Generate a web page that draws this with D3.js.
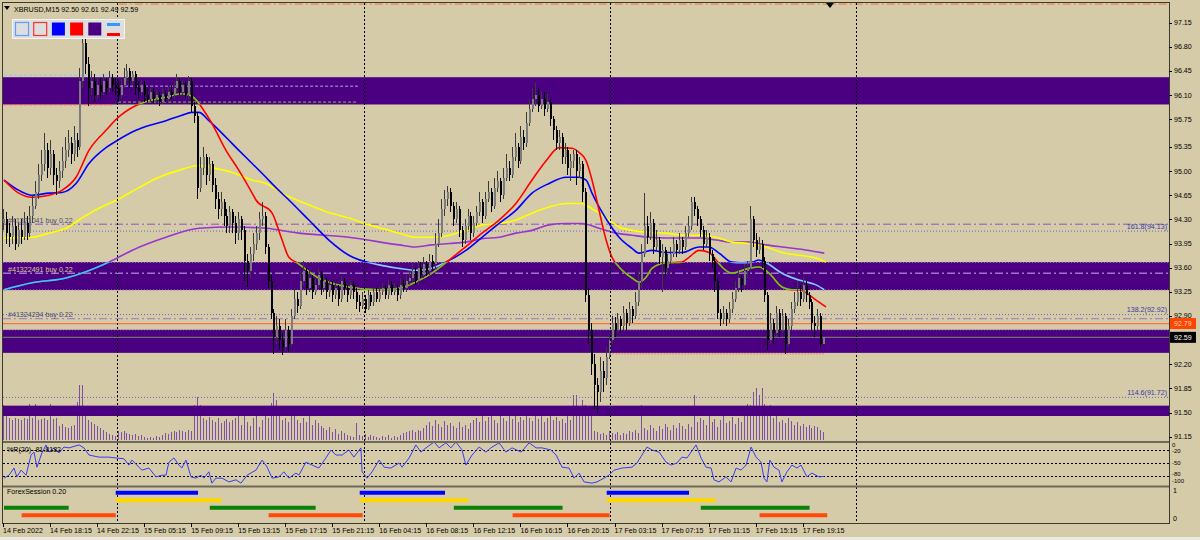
<!DOCTYPE html>
<meta charset="utf-8">
<style>
  body { margin: 0; background: #d5cba8; }
  svg text { font-family: "Liberation Sans", Arial, sans-serif; font-size: 7.1px; fill: #000; }
</style>
<script src="https://d3js.org/d3.v7.min.js"></script>
<div id="chart"></div>
<script>
  // ---- data (XBRUSD M15) ----
  var firstOpen = 94.25;
  var closes = [
    94.30, 94.10, 94.05, 94.20, 93.95, 94.15, 94.05, 94.25, 94.10, 94.35,
    94.50, 94.70, 94.95, 95.10, 95.30, 95.05, 95.25, 94.95, 94.85, 95.00,
    95.15, 95.30, 95.40, 95.25, 95.45, 95.35, 96.30, 96.85, 96.55, 96.20,
    96.30, 96.10, 96.25, 96.15, 96.30, 96.20, 96.35, 96.25, 96.20, 96.10,
    96.25, 96.35, 96.45, 96.30, 96.40, 96.20, 96.15, 96.25, 96.10, 96.05,
    96.15, 96.05, 96.10, 96.00, 96.12, 96.05, 96.15, 96.10, 96.20, 96.30,
    96.15, 96.25, 96.10, 96.30, 95.95, 95.80, 94.75, 95.05, 95.20, 94.95,
    95.10, 94.80, 94.60, 94.45, 94.55, 94.35, 94.20, 94.40, 94.25, 94.10,
    94.30, 94.15, 93.70, 93.55, 93.80, 93.95, 94.10, 94.30, 94.35, 93.90,
    93.40, 92.95, 92.60, 92.75, 92.55, 92.45, 92.70, 92.50, 92.90, 93.15,
    93.05, 93.40, 93.55, 93.30, 93.45, 93.25, 93.35, 93.50, 93.30, 93.40,
    93.25, 93.35, 93.20, 93.30, 93.15, 93.40, 93.30, 93.20, 93.35, 93.25,
    93.10, 93.05, 93.15, 93.00, 93.20, 93.10, 93.25, 93.15, 93.25, 93.30,
    93.20, 93.35, 93.25, 93.30, 93.20, 93.35, 93.30, 93.40, 93.45, 93.55,
    93.40, 93.60, 93.50, 93.65, 93.55, 93.70, 93.65, 93.95, 94.10, 94.45,
    94.60, 94.70, 94.50, 94.30, 94.45, 94.15, 94.00, 94.20, 94.35, 94.10,
    94.25, 94.40, 94.55, 94.35, 94.60, 94.70, 94.50, 94.75, 94.85, 94.65,
    94.90, 95.05, 94.95, 95.20, 95.35, 95.15, 95.50, 95.40, 95.70, 95.90,
    96.05, 96.10, 95.95, 96.05, 95.90, 96.00, 95.75, 95.60, 95.40, 95.50,
    95.20, 95.30, 95.05, 95.15, 95.25, 95.00, 95.10, 94.70, 93.20, 92.70,
    92.20, 91.90, 91.80, 92.10, 92.00, 92.30, 92.55, 92.80, 92.70, 92.85,
    92.75, 92.95, 92.80, 93.00, 92.90, 93.10, 93.40, 93.80, 94.20, 94.05,
    94.25, 93.90, 94.00, 93.75, 93.85, 93.60, 93.70, 93.80, 93.95, 93.85,
    94.00, 93.90, 94.10, 94.20, 94.55, 94.45, 94.30, 94.15, 93.95, 94.05,
    93.80, 93.70, 93.40, 92.95, 92.85, 92.95, 92.85, 93.00, 93.15, 93.30,
    93.45, 93.35, 93.55, 93.60, 94.30, 94.00, 93.85, 93.95, 93.70, 93.20,
    92.55, 92.80, 92.65, 92.95, 92.70, 92.90, 92.50, 92.75, 93.00, 93.10,
    93.25, 93.15, 93.35, 93.20, 93.10, 92.80, 92.75, 92.90, 92.50, 92.59
  ];
  var highs = [
    94.45, 94.40, 94.25, 94.35, 94.30, 94.25, 94.30, 94.40, 94.35, 94.50,
    94.65, 94.85, 95.10, 95.30, 95.55, 95.40, 95.45, 95.30, 95.05, 95.15,
    95.35, 95.50, 95.60, 95.50, 95.65, 95.55, 96.50, 97.06, 96.95, 96.65,
    96.45, 96.40, 96.35, 96.35, 96.40, 96.35, 96.45, 96.40, 96.35, 96.30,
    96.35, 96.50, 96.55, 96.50, 96.45, 96.45, 96.30, 96.30, 96.30, 96.20,
    96.20, 96.20, 96.18, 96.15, 96.20, 96.18, 96.22, 96.25, 96.30, 96.40,
    96.35, 96.32, 96.30, 96.38, 96.35, 96.00, 95.85, 95.20, 95.35, 95.25,
    95.20, 95.15, 94.90, 94.70, 94.70, 94.60, 94.45, 94.50, 94.45, 94.35,
    94.40, 94.35, 94.20, 93.80, 93.90, 94.10, 94.20, 94.40, 94.55, 94.40,
    93.95, 93.50, 93.00, 92.90, 92.85, 92.65, 92.85, 92.75, 93.00, 93.30,
    93.25, 93.55, 93.70, 93.60, 93.55, 93.50, 93.45, 93.60, 93.55, 93.50,
    93.45, 93.42, 93.40, 93.38, 93.35, 93.48, 93.45, 93.35, 93.42, 93.40,
    93.30, 93.20, 93.25, 93.20, 93.28, 93.25, 93.30, 93.30, 93.32, 93.38,
    93.35, 93.42, 93.40, 93.38, 93.35, 93.45, 93.42, 93.50, 93.55, 93.65,
    93.60, 93.70, 93.68, 93.75, 93.70, 93.80, 93.78, 94.10, 94.30, 94.60,
    94.72, 94.78, 94.75, 94.55, 94.55, 94.50, 94.20, 94.30, 94.45, 94.40,
    94.35, 94.50, 94.70, 94.60, 94.70, 94.85, 94.75, 94.90, 95.00, 94.90,
    95.05, 95.25, 95.15, 95.35, 95.55, 95.40, 95.65, 95.60, 95.85, 96.05,
    96.20, 96.28, 96.20, 96.15, 96.15, 96.12, 96.05, 95.80, 95.65, 95.60,
    95.55, 95.40, 95.35, 95.25, 95.30, 95.30, 95.20, 95.15, 94.75, 93.30,
    92.80, 92.35, 92.00, 92.30, 92.25, 92.45, 92.60, 92.90, 92.88, 92.95,
    92.90, 93.05, 93.00, 93.10, 93.05, 93.25, 93.55, 93.95, 94.68, 94.35,
    94.40, 94.30, 94.15, 94.05, 93.95, 93.90, 93.80, 93.90, 94.05, 94.00,
    94.10, 94.05, 94.20, 94.35, 94.62, 94.62, 94.50, 94.35, 94.20, 94.15,
    94.10, 93.85, 93.75, 93.45, 93.00, 93.05, 93.00, 93.10, 93.25, 93.40,
    93.55, 93.50, 93.65, 93.70, 94.50, 94.35, 94.10, 94.05, 94.00, 93.75,
    93.25, 92.95, 92.85, 93.05, 93.00, 93.00, 92.95, 92.85, 93.10, 93.25,
    93.40, 93.35, 93.46, 93.40, 93.25, 93.15, 92.90, 93.00, 92.95, 92.61
  ];
  var lows = [
    94.15, 93.95, 93.90, 93.95, 93.85, 93.90, 93.95, 94.00, 94.00, 94.05,
    94.25, 94.45, 94.60, 94.85, 95.00, 94.90, 94.95, 94.80, 94.65, 94.75,
    94.90, 95.05, 95.20, 95.10, 95.15, 95.20, 95.30, 96.20, 96.40, 95.95,
    96.10, 96.00, 96.05, 96.05, 96.10, 96.10, 96.15, 96.15, 96.10, 96.00,
    96.05, 96.20, 96.30, 96.20, 96.25, 96.10, 96.05, 96.10, 96.00, 96.00,
    96.00, 95.98, 96.00, 95.95, 95.97, 96.00, 96.00, 96.05, 96.05, 96.15,
    96.10, 96.10, 96.05, 96.05, 95.85, 95.70, 94.60, 94.70, 94.95, 94.80,
    94.85, 94.70, 94.45, 94.30, 94.35, 94.20, 94.10, 94.10, 94.10, 93.95,
    94.00, 94.00, 93.40, 93.32, 93.45, 93.70, 93.85, 94.00, 94.20, 93.80,
    93.30, 92.85, 92.35, 92.50, 92.40, 92.34, 92.40, 92.38, 92.45, 92.85,
    92.95, 93.00, 93.35, 93.20, 93.25, 93.15, 93.20, 93.30, 93.20, 93.25,
    93.15, 93.18, 93.10, 93.15, 93.05, 93.10, 93.20, 93.10, 93.15, 93.15,
    93.00, 92.96, 93.00, 92.95, 92.98, 93.05, 93.05, 93.10, 93.10, 93.20,
    93.15, 93.15, 93.20, 93.20, 93.12, 93.15, 93.25, 93.25, 93.35, 93.40,
    93.35, 93.35, 93.45, 93.45, 93.48, 93.50, 93.55, 93.60, 93.90, 94.05,
    94.35, 94.50, 94.40, 94.20, 94.25, 94.05, 93.90, 93.95, 94.15, 94.00,
    94.05, 94.20, 94.35, 94.25, 94.30, 94.55, 94.40, 94.45, 94.70, 94.55,
    94.60, 94.85, 94.85, 94.90, 95.15, 95.05, 95.10, 95.30, 95.35, 95.65,
    95.85, 95.95, 95.85, 95.90, 95.80, 95.85, 95.65, 95.45, 95.30, 95.30,
    95.10, 95.10, 94.95, 94.85, 95.05, 94.80, 94.90, 94.55, 93.10, 92.50,
    92.05, 91.55, 91.50, 91.65, 91.80, 91.90, 92.28, 92.50, 92.60, 92.65,
    92.65, 92.70, 92.70, 92.75, 92.80, 92.85, 93.05, 93.30, 93.75, 93.95,
    94.00, 93.80, 93.85, 93.65, 93.25, 93.50, 93.50, 93.65, 93.75, 93.75,
    93.80, 93.80, 93.85, 94.05, 94.15, 94.35, 94.20, 94.05, 93.85, 93.90,
    93.70, 93.60, 93.25, 92.85, 92.75, 92.78, 92.75, 92.80, 92.95, 93.10,
    93.25, 93.25, 93.30, 93.45, 93.55, 93.90, 93.75, 93.80, 93.60, 93.10,
    92.40, 92.50, 92.50, 92.60, 92.60, 92.65, 92.35, 92.45, 92.70, 92.95,
    93.05, 93.05, 93.10, 93.10, 93.00, 92.70, 92.60, 92.70, 92.45, 92.49
  ];
  var volumes = [
    35, 34, 22, 20, 22, 21, 20, 22, 21, 36,
    22, 36, 20, 21, 22, 20, 36, 21, 22, 14,
    16, 13, 12, 14, 15, 38, 55, 55, 24, 20,
    18, 16, 14, 12, 10, 8, 6, 5, 4, 9,
    8, 9, 7, 6, 5, 6, 4, 5, 3, 2,
    3, 2, 4, 3, 5, 7, 6, 8, 9, 8,
    10, 9, 8, 10, 9, 35, 43, 35, 22, 20,
    23, 20, 18, 22, 17, 19, 21, 18, 20, 22,
    25, 15, 27, 18, 14, 22, 26, 13, 20, 24,
    22, 37, 47, 40, 25, 20, 22, 18, 24, 27,
    20, 17, 22, 18, 25, 15, 20, 17, 14, 12,
    10, 13, 8, 11, 6, 9, 7, 5, 4, 3,
    17, 5, 4, 6, 3, 5, 4, 3, 2, 4,
    3, 5, 2, 4, 3, 5, 7, 8, 9, 10,
    8, 10, 9, 12, 15, 18, 14, 20, 16, 13,
    19, 15, 17, 14, 12, 18, 13, 15, 11, 17,
    20, 22, 18, 25, 19, 23, 27, 20, 17, 24,
    22, 19, 25, 21, 27, 18, 23, 20, 26, 22,
    19, 24, 21, 25, 18, 22, 26, 20, 23, 19,
    21, 17, 24, 20, 45, 45, 28, 40, 35, 30,
    27, 9, 8, 6, 7, 5, 9, 7, 6, 8,
    5, 7, 6, 9, 8, 10, 7, 35, 12, 10,
    15, 12, 9, 14, 11, 16, 13, 10, 15, 12,
    17, 14, 11, 16, 13, 45, 18, 22, 20, 15,
    24, 18, 21, 13, 20, 25, 17, 19, 23, 16,
    22, 18, 25, 36, 35, 48, 52, 45, 52, 36,
    30, 35, 22, 25, 18, 20, 17, 22, 19, 15,
    18, 14, 16, 13, 15, 12, 14, 13, 10, 8
  ];

  // moving averages sampled as [bar, price]
  var maRed = [[0, 94.87], [5, 94.68], [9.5, 94.62], [15.3, 94.65], [19.7, 94.72], [24.5, 94.91], [28.9, 95.30],
    [34.7, 95.59], [38.4, 95.76], [44.9, 95.95], [49.3, 96.02], [55.1, 96.07], [60.5, 96.12], [63.6, 96.09],
    [65.6, 96.02], [67.3, 95.92], [70.7, 95.69], [75.5, 95.30], [79.9, 95.01], [84.4, 94.68], [85.7, 94.58],
    [91.2, 94.39], [94.6, 94.00], [96.9, 93.75], [99.7, 93.67], [107, 93.45], [117, 93.32], [127.5, 93.28],
    [134.4, 93.30], [140, 93.39], [145.6, 93.52], [151.4, 93.71], [157, 93.90], [162.6, 94.10], [168.4, 94.29],
    [174.1, 94.53], [179.6, 94.87], [184.4, 95.15], [188.8, 95.34], [193.2, 95.33], [195.6, 95.27], [198, 95.15],
    [200, 94.87], [202.4, 94.43], [204.8, 94.00], [206.8, 93.75], [209.2, 93.61], [213.6, 93.45], [216, 93.39],
    [218.4, 93.46], [220.4, 93.59], [225.2, 93.67], [230.6, 93.68], [233, 93.75], [236.4, 93.85], [239.8, 93.82],
    [242.2, 93.71], [244.2, 93.61], [247.6, 93.52], [253.4, 93.59], [256.8, 93.61], [260.2, 93.52], [264.6, 93.32],
    [268, 93.28], [270.4, 93.28], [276.2, 93.13], [279.6, 93.03]];
  var maBlue = [[0, 94.87], [5.1, 94.72], [9.5, 94.65], [15.3, 94.68], [19.7, 94.69], [24.5, 94.82], [28.9, 95.11],
    [34.7, 95.34], [38.4, 95.44], [44.9, 95.59], [49.3, 95.66], [55.1, 95.73], [60.5, 95.81], [63.9, 95.85],
    [66.3, 95.85], [69.7, 95.73], [75.5, 95.49], [79.9, 95.30], [84.4, 95.11], [89.1, 94.91], [92.5, 94.76],
    [96.9, 94.58], [103.7, 94.29], [110.5, 94.00], [117.3, 93.78], [127.6, 93.64], [134.4, 93.59], [140.1, 93.56],
    [145.6, 93.59], [150.3, 93.68], [157.1, 93.85], [162.6, 94.04], [168.4, 94.24], [174.1, 94.43], [179.6, 94.68],
    [185.4, 94.82], [191.2, 94.91], [195.6, 94.91], [198, 94.87], [200, 94.68], [202.4, 94.48], [205.8, 94.24],
    [209.2, 94.04], [213.6, 93.88], [216, 93.81], [220.4, 93.85], [225.2, 93.82], [230.6, 93.82], [236.4, 93.90],
    [239.8, 93.90], [243.2, 93.81], [247.6, 93.68], [251, 93.67], [254.4, 93.68], [256.8, 93.71], [259.2, 93.67],
    [264.6, 93.52], [270.4, 93.42], [276.2, 93.35], [279, 93.28]];
  var maYellow = [[0, 94.03], [9.5, 94.04], [15.3, 94.10], [21.1, 94.17], [26.5, 94.32], [32.3, 94.46], [38.4, 94.58],
    [45.9, 94.76], [52.7, 94.91], [59.5, 95.01], [66.3, 95.08], [70.7, 95.05], [77.6, 94.98], [84.4, 94.87],
    [89.1, 94.82], [94.6, 94.68], [98, 94.61], [103.7, 94.51], [110.5, 94.40], [117.3, 94.32], [124.1, 94.22],
    [131, 94.14], [134.4, 94.10], [140.1, 94.04], [145.6, 94.04], [151.4, 94.07], [157.1, 94.14], [162.6, 94.22],
    [168.4, 94.24], [174.1, 94.29], [179.6, 94.39], [185.4, 94.48], [191.2, 94.53], [196.3, 94.53], [199, 94.48],
    [202.4, 94.39], [205.8, 94.29], [209.2, 94.19], [213.6, 94.14], [219.4, 94.11], [225.2, 94.10], [230.6, 94.07],
    [236.4, 94.07], [242.2, 94.04], [247.6, 93.97], [253.4, 93.95], [259.2, 93.90], [264.6, 93.82], [270.4, 93.78],
    [276.2, 93.74], [279.6, 93.68]];
  var maPurple = [[0, 93.28], [9.5, 93.38], [21.1, 93.45], [35.7, 93.68], [43.5, 93.85], [55.1, 94.04], [66.3, 94.17],
    [77.6, 94.19], [89.1, 94.17], [100.3, 94.10], [117.3, 94.04], [134.4, 93.93], [140.1, 93.90], [145.6, 93.93],
    [151.4, 93.95], [157.1, 93.97], [162.6, 94.02], [168.4, 94.04], [174.1, 94.10], [179.6, 94.14], [185.4, 94.22],
    [191.2, 94.24], [196.6, 94.24], [202.4, 94.17], [208.2, 94.10], [213.6, 94.07], [219.4, 94.04], [225.2, 94.03],
    [230.6, 94.03], [236.4, 94.03], [242.2, 94.00], [247.6, 93.97], [253.4, 93.97], [259.2, 93.93], [264.6, 93.90],
    [270.4, 93.87], [276.2, 93.83], [279, 93.81]];

  // Williams %R(20) sampled as [bar, value]
  var wpr = [[0, -86], [1.7, -79], [3.4, -62], [4.4, -83], [5.8, -67], [7.5, -79], [9.2, -31], [10.2, -24], [11.2, -60],
    [12.9, -26], [14.3, -7], [15.3, -24], [17, -14], [18.7, -26], [20.4, -12], [22.1, -14], [25.5, -7], [27.2, -14],
    [28.9, -31], [32.3, -36], [35.7, -36], [38.1, -38], [40.8, -40], [42.5, -55], [43.5, -43], [45.9, -60], [46.9, -67],
    [49.3, -62], [51.7, -83], [53.7, -79], [55.1, -79], [56.1, -48], [57.8, -38], [59.5, -55], [60.5, -62], [61.9, -43],
    [63.6, -83], [65.3, -86], [67, -79], [68, -86], [69.7, -71], [70.7, -98], [72.1, -86], [74.1, -86], [76.5, -95],
    [78.9, -90], [80.6, -98], [82.7, -79], [85.7, -67], [87.8, -43], [89.5, -60], [91.2, -86], [93.5, -83], [95.2, -71],
    [96.9, -86], [99.3, -74], [100.3, -79], [102.7, -48], [104.8, -55], [107.1, -62], [109.5, -38], [111.2, -19],
    [112.9, -31], [115, -31], [117.3, -19], [119, -36], [121.4, -14], [121.8, -71], [123.5, -86], [125.2, -71],
    [127.6, -43], [129.3, -60], [131.6, -62], [134.4, -50], [135.4, -60], [137.8, -38], [140.1, -7], [141.8, -24],
    [143.9, -12], [146.3, 0], [148, -14], [150.3, -2], [152, -14], [153.7, 0], [155.8, -19], [157.1, -55], [159.2, -31],
    [161.6, -12], [163.9, -24], [166, -12], [168.4, -2], [170.7, -24], [172.8, -14], [175.9, -24], [178.6, -2],
    [181, -14], [183, -14], [186, -19], [187.8, -31], [189.8, -60], [192.2, -62], [193.9, -86], [195.6, -74],
    [197.3, -95], [200, -98], [201.7, -95], [204.1, -86], [205.8, -79], [207.5, -67], [210.2, -62], [213.6, -60],
    [215.3, -50], [217, -31], [218.7, -12], [220.4, -19], [222.8, -24], [225.2, -48], [226.9, -55], [228.9, -50],
    [230.6, -36], [232.3, -38], [235.4, -7], [237.1, -38], [238.8, -60], [240.5, -62], [241.5, -90], [243.2, -95],
    [245.6, -83], [247.3, -95], [249, -62], [250.7, -67], [252.4, -55], [254.1, -12], [255.8, -36], [257.5, -48],
    [258.5, -86], [259.5, -95], [260.5, -43], [261.9, -60], [263.6, -67], [264.6, -95], [266.3, -71], [268, -55],
    [269.7, -62], [271.1, -55], [273.1, -83], [274.8, -74], [277.2, -83], [278.9, -82]];
  var wprLevels = [-20, -50, -80];
  var wprTicks = [0, -20, -50, -80, -100];

  // ForexSession bars, [startBar, endBar]
  var sessionNames = ["Sydney", "Tokyo", "London", "NewYork"];
  var sessionRanges = [
    [[38, 66], [121, 150], [205, 233]],
    [[38, 74], [121, 158], [205, 242]],
    [[0, 22], [70, 106], [153, 190], [237, 274]],
    [[6, 38], [90, 122], [173, 206], [257, 280]]
  ];

  var zones = [[95.965, 96.36], [93.275, 93.68], [92.365, 92.70], [91.45, 91.60]];
  var zoneEdges = [93.68, 93.275, 92.70];
  var orderLines = [94.23, 93.52, 92.86];
  var orderLabels = ["#41321041 buy 0.22", "#41322491 buy 0.22", "#41324234 buy 0.22"];
  var fiboLevels = [94.13, 92.92, 91.72];
  var fiboLabels = ["161.8(94.13)", "138.2(92.92)", "114.6(91.72)"];
  var alertPrice = 92.79;
  var lastPrice = 92.59;
  var lowLine = [206, 279, 92.35];
  var topLine = [39, 396, 97.42];
  var oldBox = [[0, 36.7, 96.39], [0, 36.7, 95.96], [39.5, 120.4, 96.23], [38.8, 120.4, 96.00]];
  var daySeps = [38.5, 122.5, 206.1, 289.8];
  var priceTicks = [97.15, 96.80, 96.45, 96.10, 95.75, 95.35, 95.00, 94.65, 94.30, 93.95, 93.60, 93.25, 92.90,
    92.20, 91.85, 91.50, 91.15];
  var timeLabels = ["14 Feb 2022", "14 Feb 18:15", "14 Feb 22:15", "15 Feb 05:15", "15 Feb 09:15", "15 Feb 13:15",
    "15 Feb 17:15", "15 Feb 21:15", "16 Feb 04:15", "16 Feb 08:15", "16 Feb 12:15", "16 Feb 16:15", "16 Feb 20:15",
    "17 Feb 03:15", "17 Feb 07:15", "17 Feb 11:15", "17 Feb 15:15", "17 Feb 19:15"];
  var header = "XBRUSD,M15  92.50 92.61 92.49 92.59";

  // ---- layout ----
  var left = 3, right = 1169, mainTop = 3, mainBot = 440, bottom = 523;
  var svg = d3.select("#chart").append("svg")
    .attr("width", 1200).attr("height", 540)
    .style("background", "#d5cba8");

  var x = d3.scaleLinear().domain([0, 396]).range([4, 4 + 396 * 2.94]);
  var y = d3.scaleLinear().domain([91.15, 97.15]).range([436.7, 22.7]);
  var yVol = d3.scaleLinear().domain([0, 60]).range([440, 380]);
  var yR = d3.scaleLinear().domain([-100, 0]).range([484, 442]);
  var ySes = d3.scaleBand().domain(sessionNames).range([489, 519]);

  var defs = svg.append("defs");
  defs.append("clipPath").attr("id", "mainClip").append("rect")
    .attr("x", left).attr("y", mainTop).attr("width", right - left).attr("height", mainBot - mainTop);
  var zc = defs.append("clipPath").attr("id", "zoneClip");
  zones.forEach(function (z) {
    zc.append("rect").attr("x", left).attr("width", right - left)
      .attr("y", y(z[1])).attr("height", y(z[0]) - y(z[1]));
  });

  var main = svg.append("g").attr("clip-path", "url(#mainClip)");

  // volumes
  main.append("g").attr("shape-rendering", "crispEdges")
    .selectAll("line").data(volumes).enter().append("line")
    .attr("x1", function (d, i) { return Math.round(x(i)) - 0.5; })
    .attr("x2", function (d, i) { return Math.round(x(i)) - 0.5; })
    .attr("y1", yVol(0))
    .attr("y2", function (d) { return yVol(d); })
    .attr("stroke", "#7f4fa6");

  // zones
  main.selectAll("rect.zone").data(zones).enter().append("rect")
    .attr("class", "zone")
    .attr("x", left).attr("width", right - left)
    .attr("y", function (d) { return y(d[1]); })
    .attr("height", function (d) { return y(d[0]) - y(d[1]); })
    .attr("fill", "#4b0082");

  main.selectAll("line.zedge").data(zoneEdges).enter().append("line")
    .attr("x1", left).attr("x2", right)
    .attr("y1", function (d) { return y(d); }).attr("y2", function (d) { return y(d); })
    .attr("stroke", "#b7a9c9").attr("stroke-dasharray", "1,2");

  // old box lines on the top zone
  var oldColors = ["#8ec8f0", "#ff5050", "#b8a0e0", "#8cc040"];
  main.selectAll("line.old").data(oldBox).enter().append("line")
    .attr("x1", function (d) { return x(d[0]); }).attr("x2", function (d) { return x(d[1]); })
    .attr("y1", function (d) { return y(d[2]); }).attr("y2", function (d) { return y(d[2]); })
    .attr("stroke", function (d, i) { return oldColors[i]; })
    .attr("stroke-dasharray", "3,2");

  main.append("line")
    .attr("x1", x(topLine[0])).attr("x2", x(topLine[1]))
    .attr("y1", y(topLine[2])).attr("y2", y(topLine[2]))
    .attr("stroke", "#f07830").attr("stroke-dasharray", "8,3,2,3");

  // order lines and fibo levels
  var orderColors = ["#8a4fc8", "#c8b0e8", "#9a78b8"];
  main.selectAll("line.order").data(orderLines).enter().append("line")
    .attr("x1", left).attr("x2", right)
    .attr("y1", function (d) { return y(d); }).attr("y2", function (d) { return y(d); })
    .attr("stroke", function (d, i) { return orderColors[i]; })
    .attr("stroke-dasharray", "8,3,2,3");

  main.selectAll("line.fibo").data(fiboLevels).enter().append("line")
    .attr("x1", left).attr("x2", right)
    .attr("y1", function (d) { return y(d); }).attr("y2", function (d) { return y(d); })
    .attr("stroke", "#6a64c0").attr("stroke-dasharray", "1,2");

  main.append("line")
    .attr("x1", left).attr("x2", right)
    .attr("y1", y(alertPrice)).attr("y2", y(alertPrice))
    .attr("stroke", "#ff7040").attr("stroke-width", 1.2);

  main.append("line")
    .attr("x1", left).attr("x2", right)
    .attr("y1", y(lastPrice)).attr("y2", y(lastPrice))
    .attr("stroke", "#707070").attr("stroke-width", 1.2);

  main.append("line")
    .attr("x1", x(lowLine[0])).attr("x2", x(lowLine[1]))
    .attr("y1", y(lowLine[2])).attr("y2", y(lowLine[2]))
    .attr("stroke", "#ff4040").attr("stroke-dasharray", "1,2");

  // moving averages, other colour inside the zones
  var ma = d3.line()
    .x(function (d) { return x(d[0]); })
    .y(function (d) { return y(d[1]); })
    .curve(d3.curveMonotoneX);
  var maSets = [
    [maPurple, "#9a35d0", "#30d0ea"],
    [maYellow, "#ffff00", "#f0a020"],
    [maBlue, "#0000ff", "#90c8f0"],
    [maRed, "#ff0000", "#66cc22"]
  ];
  maSets.forEach(function (m) {
    main.append("path").datum(m[0]).attr("d", ma)
      .attr("fill", "none").attr("stroke", m[1]).attr("stroke-width", 1.6);
    main.append("path").datum(m[0]).attr("d", ma)
      .attr("clip-path", "url(#zoneClip)")
      .attr("fill", "none").attr("stroke", m[2]).attr("stroke-width", 1.6);
  });

  // candles
  var opens = [firstOpen].concat(closes.slice(0, -1));
  var gc = main.append("g").attr("shape-rendering", "crispEdges");
  gc.selectAll("line").data(closes).enter().append("line")
    .attr("x1", function (d, i) { return Math.round(x(i)) - 0.5; })
    .attr("x2", function (d, i) { return Math.round(x(i)) - 0.5; })
    .attr("y1", function (d, i) { return y(highs[i]); })
    .attr("y2", function (d, i) { return y(lows[i]); })
    .attr("stroke", function (d, i) { return d >= opens[i] ? "#3a3a3a" : "#000"; });
  gc.selectAll("rect").data(closes).enter().append("rect")
    .attr("x", function (d, i) { return Math.round(x(i)) - 1; })
    .attr("width", 2)
    .attr("y", function (d, i) { return y(Math.max(d, opens[i])); })
    .attr("height", function (d, i) { return Math.max(1, Math.abs(y(d) - y(opens[i]))); })
    .attr("fill", function (d, i) { return d >= opens[i] ? "#7c7c7c" : "#000"; });

  // texts on the chart
  var orderText = ["#4e4e74", "#d8d090", "#4e4e74"];
  main.selectAll("text.order").data(orderLines).enter().append("text")
    .attr("x", 8).attr("y", function (d) { return y(d) - 1.5; })
    .style("fill", function (d, i) { return orderText[i]; })
    .text(function (d, i) { return orderLabels[i]; });
  main.selectAll("text.fibo").data(fiboLevels).enter().append("text")
    .attr("x", right - 2).attr("y", function (d) { return y(d) - 2.5; })
    .attr("text-anchor", "end")
    .style("fill", "#3a3aa8")
    .text(function (d, i) { return fiboLabels[i]; });

  // period separators
  svg.selectAll("line.sep").data(daySeps).enter().append("line")
    .attr("x1", function (d) { return Math.round(x(d)) + 0.5; })
    .attr("x2", function (d) { return Math.round(x(d)) + 0.5; })
    .attr("y1", mainTop).attr("y2", bottom)
    .attr("stroke", "#000").attr("stroke-dasharray", "2,2");

  // ---- %R panel ----
  svg.selectAll("line.lvl").data(wprLevels).enter().append("line")
    .attr("x1", left).attr("x2", right)
    .attr("y1", function (d) { return Math.round(yR(d)) + 0.5; })
    .attr("y2", function (d) { return Math.round(yR(d)) + 0.5; })
    .attr("stroke", "#000").attr("stroke-dasharray", "2,2");
  svg.append("path").datum(wpr)
    .attr("d", d3.line().x(function (d) { return x(d[0]); }).y(function (d) { return yR(d[1]); }))
    .attr("fill", "none").attr("stroke", "#3b3bf5").attr("stroke-width", 1);
  svg.append("text").attr("x", 7).attr("y", 452).text("%R(20) -81.8182");

  // ---- ForexSession panel ----
  var sesColors = ["#0000ff", "#ffd700", "#0a820a", "#ff4a0a"];
  sessionNames.forEach(function (name, k) {
    svg.selectAll("rect.s" + k).data(sessionRanges[k]).enter().append("rect")
      .attr("x", function (d) { return x(d[0]); })
      .attr("width", function (d) { return x(d[1]) - x(d[0]); })
      .attr("y", ySes(name) + ySes.bandwidth() / 2 - 2)
      .attr("height", 4)
      .attr("fill", sesColors[k]);
  });
  svg.append("text").attr("x", 7).attr("y", 494).text("ForexSession 0.20");

  // ---- frames and separators ----
  svg.append("rect").attr("x", left - 0.5).attr("y", mainTop - 0.5)
    .attr("width", right - left + 1).attr("height", bottom - mainTop + 1)
    .attr("fill", "none").attr("stroke", "#3a3a30");
  [mainBot + 1, 485.5].forEach(function (yy) {
    svg.append("rect").attr("x", left).attr("y", yy).attr("width", right - left).attr("height", 2)
      .attr("fill", "#6e6a58");
  });

  // right price axis
  svg.selectAll("line.pt").data(priceTicks).enter().append("line")
    .attr("x1", right).attr("x2", right + 3)
    .attr("y1", function (d) { return Math.round(y(d)) + 0.5; })
    .attr("y2", function (d) { return Math.round(y(d)) + 0.5; })
    .attr("stroke", "#000");
  svg.selectAll("text.pt").data(priceTicks).enter().append("text")
    .attr("x", right + 5).attr("y", function (d) { return y(d); })
    .attr("dy", "0.35em")
    .text(function (d) { return d.toFixed(2); });

  var boxes = [[alertPrice, "#ff4500", "#ffd0b8"], [lastPrice, "#000", "#fff"]];
  boxes.forEach(function (b) {
    svg.append("rect").attr("x", right + 1).attr("y", y(b[0]) - 5.5)
      .attr("width", 26).attr("height", 11).attr("fill", b[1]);
    svg.append("text").attr("x", right + 5).attr("y", y(b[0])).attr("dy", "0.35em")
      .style("fill", b[2]).text(b[0].toFixed(2));
  });

  // %R scale labels, squeezed into the panel
  svg.selectAll("text.rt").data(wprTicks).enter().append("text")
    .attr("x", right + 3)
    .attr("y", function (d) { return Math.min(481, Math.max(445, yR(d) - (d === -80 ? 2 : 0))); })
    .attr("dy", "0.35em").style("font-size", "6px")
    .text(function (d) { return d; });
  svg.append("text").attr("x", right + 4).attr("y", 491).attr("dy", "0.35em").text("1");
  svg.append("text").attr("x", right + 4).attr("y", 519).attr("dy", "0.35em").text("0");

  // time axis
  var tIdx = timeLabels.map(function (t, k) { return k * 16; });
  svg.selectAll("line.tt").data(tIdx).enter().append("line")
    .attr("x1", function (d) { return Math.round(x(d)) - 0.5; })
    .attr("x2", function (d) { return Math.round(x(d)) - 0.5; })
    .attr("y1", bottom).attr("y2", bottom + 4).attr("stroke", "#000");
  svg.selectAll("text.tt").data(tIdx).enter().append("text")
    .attr("x", function (d) { return x(d) - 1; }).attr("y", 533)
    .text(function (d, k) { return timeLabels[k]; });

  svg.append("rect").attr("x", 0).attr("y", 537).attr("width", 1200).attr("height", 3).attr("fill", "#ece9e0");

  // chart shift marker
  svg.append("path").attr("d", "M826,3L834,3L830,8Z").attr("fill", "#000");

  // header and toolbar
  svg.append("path").attr("d", "M4,6L10,6L7,10Z").attr("fill", "#000");
  svg.append("text").attr("x", 14).attr("y", 11.5).text(header);

  var tb = svg.append("g").attr("transform", "translate(12,19)");
  tb.append("rect").attr("x", 0.5).attr("y", 0.5).attr("width", 112).attr("height", 19)
    .attr("fill", "#dedede").attr("stroke", "#f4f4f4");
  var icons = [["#dedede", "#5aa0ff"], ["#dedede", "#ff3030"], ["#0000ff", "none"], ["#ff0000", "none"], ["#4b0082", "none"]];
  icons.forEach(function (c, k) {
    tb.append("rect").attr("x", 3.5 + k * 18.2).attr("y", 3.5).attr("width", 13).attr("height", 13)
      .attr("fill", c[0]).attr("stroke", c[1]).attr("stroke-width", 1.2);
  });
  tb.append("rect").attr("x", 95).attr("y", 4).attr("width", 13).attr("height", 3).attr("fill", "#3399ff");
  tb.append("rect").attr("x", 95).attr("y", 14).attr("width", 13).attr("height", 3).attr("fill", "#ff0000");
</script>
